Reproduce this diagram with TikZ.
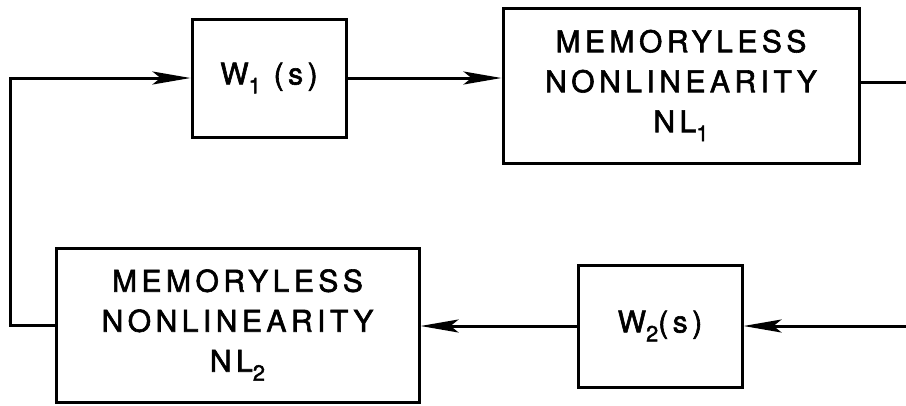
\documentclass[tikz,border=0pt]{standalone}
\usepackage{fontspec}
\setmainfont{TeX Gyre Heros}
\newfontfamily\lett[LetterSpace=15,FakeBold=2]{TeX Gyre Heros}
\usetikzlibrary{arrows.meta}
\newcommand\lsub[1]{\raisebox{-9pt}{\fontsize{22}{22}\selectfont #1}}
\begin{document}
\begin{tikzpicture}[x=1pt,y=-1pt,
  blk/.style={draw,line width=3pt,inner sep=0pt,align=center,
    font=\lett\fontsize{30}{40}\selectfont},
  conn/.style={line width=3pt},
  arr/.style={conn,-{Stealth[length=38pt,width=13pt,inset=8pt]}}]
\useasboundingbox (0,0) rectangle (906,405);
\node[blk,minimum width=154pt,minimum height=118pt] (W1) at (269,78) {W\lsub{1} (s)};
\node[blk,minimum width=356pt,minimum height=155pt] (NL1) at (681,85.5) {MEMORYLESS\\NONLINEARITY\\NL\lsub{1}};
\node[blk,minimum width=363pt,minimum height=154pt] (NL2) at (237.5,325) {MEMORYLESS\\NONLINEARITY\\NL\lsub{2}};
\node[blk,minimum width=164pt,minimum height=122pt] (W2) at (660,326) {W\lsub{2}(s)};
\coordinate (rt) at (906,82);
\coordinate (rb) at (906,326);
\coordinate (lc) at (10,0);
\draw[arr] (W1.east) -- (W1.east -| NL1.west);
\draw[conn] (rt -| NL1.east) -- (rt);
\draw[arr] (rb) -- (W2.east);
\draw[arr] (W2.west) -- (W2.west -| NL2.east);
\draw[arr] (NL2.west) -- (NL2.west -| lc) -- (W1.west -| lc) -- (W1.west);
\end{tikzpicture}
\end{document}
